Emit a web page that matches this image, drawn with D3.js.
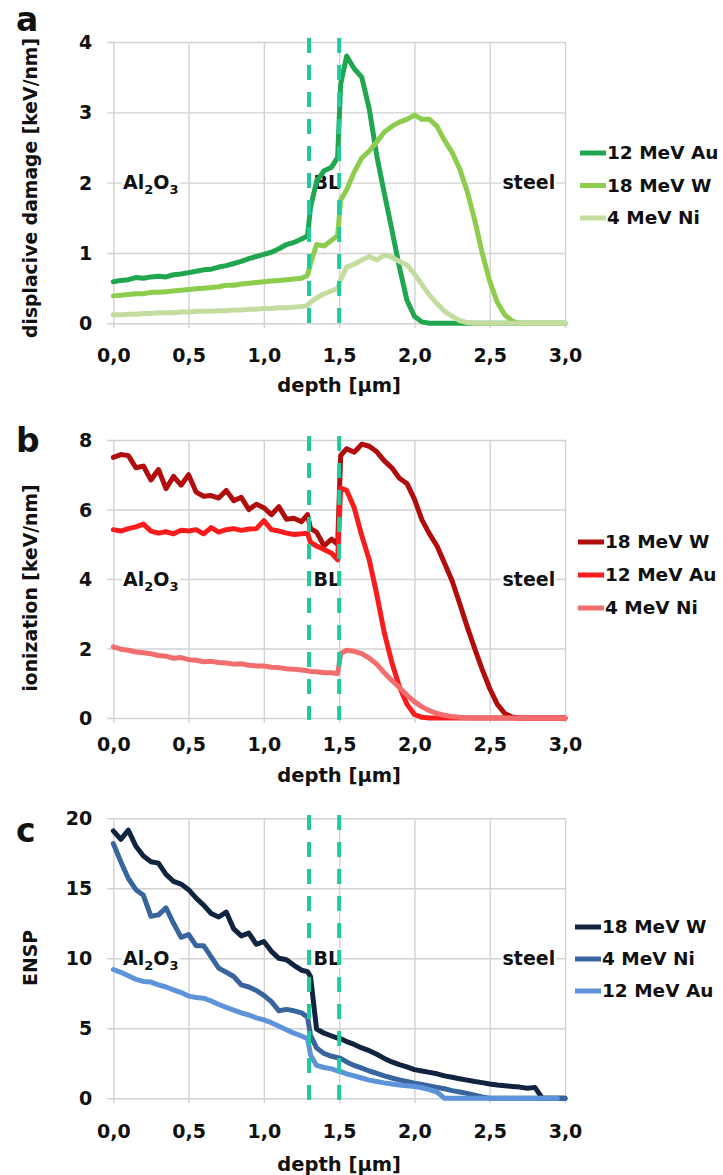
<!DOCTYPE html>
<html>
<head>
<meta charset="utf-8">
<script src="https://cdn.jsdelivr.net/npm/d3@7"></script>
<style>
  body { margin: 0; background: #fff; }
  svg { display: block; font-family: 'DejaVu Sans', sans-serif; font-weight: bold; }
</style>
</head>
<body>
<div id="chart"></div>
<script>
// depth grid [µm], shared by all curves (extra points around the BL interfaces)
const depth = [0.00,0.05,0.10,0.15,0.20,0.25,0.30,0.35,0.40,0.45,0.50,0.55,0.60,0.65,0.70,0.75,0.80,0.85,0.90,0.95,1.00,1.05,1.10,1.15,1.20,1.25,
  1.29,1.31,1.35,1.40,1.45,1.49,1.51,
  1.55,1.60,1.65,1.70,1.75,1.80,1.85,1.90,1.95,2.00,2.05,2.10,2.15,2.20,2.25,2.30,2.35,2.40,2.45,2.50,2.55,2.60,2.65,2.70,2.75,2.80,2.85,2.90,2.95,3.00];

// a: displacive damage [keV/nm]
const damageAu12 = [0.59,0.61,0.62,0.65,0.64,0.66,0.67,0.66,0.69,0.70,0.72,0.74,0.76,0.77,0.80,0.82,0.85,0.88,0.92,0.95,0.98,1.01,1.06,1.12,1.15,1.20,
  1.24,1.65,2.02,2.17,2.22,2.36,3.40,
  3.80,3.62,3.50,3.05,2.38,1.85,1.33,0.80,0.33,0.10,0.02,0,0,0,0,0,0,0,0,0,0,0,0,0,0,0,0,0,0,0];
const damageW18 = [0.39,0.40,0.41,0.42,0.42,0.44,0.44,0.45,0.46,0.47,0.48,0.49,0.50,0.51,0.52,0.54,0.54,0.56,0.57,0.58,0.59,0.60,0.61,0.62,0.63,0.64,
  0.68,0.85,1.12,1.10,1.18,1.25,1.75,
  1.90,2.15,2.35,2.45,2.58,2.72,2.80,2.86,2.90,2.96,2.90,2.90,2.80,2.60,2.43,2.20,1.88,1.47,1.00,0.60,0.30,0.12,0.03,0,0,0,0,0,0,0];
const damageNi4 = [0.12,0.12,0.13,0.13,0.14,0.14,0.15,0.15,0.15,0.16,0.16,0.17,0.17,0.17,0.18,0.18,0.19,0.19,0.20,0.20,0.21,0.21,0.22,0.22,0.23,0.24,
  0.25,0.30,0.36,0.42,0.46,0.50,0.62,
  0.80,0.84,0.90,0.95,0.90,0.97,0.94,0.88,0.83,0.70,0.55,0.40,0.28,0.17,0.10,0.04,0.01,0,0,0,0,0,0,0,0,0,0,0,0,0];

// b: ionization [keV/nm]
const ionW18 = [7.50,7.58,7.55,7.20,7.25,6.85,7.15,6.60,6.95,6.70,7.00,6.50,6.38,6.40,6.33,6.55,6.25,6.35,6.00,6.15,6.05,5.85,6.08,5.72,5.75,5.65,
  5.85,5.45,5.35,4.95,5.15,5.00,7.55,
  7.75,7.65,7.88,7.82,7.66,7.40,7.20,6.90,6.75,6.30,5.70,5.30,4.95,4.45,3.95,3.30,2.63,2.00,1.40,0.85,0.40,0.13,0.03,0,0,0,0,0,0,0];
const ionAu12 = [5.42,5.38,5.45,5.50,5.58,5.38,5.32,5.36,5.30,5.40,5.38,5.42,5.30,5.48,5.35,5.42,5.45,5.40,5.44,5.45,5.68,5.42,5.38,5.32,5.28,5.30,
  5.32,5.05,4.95,4.85,4.74,4.55,6.62,
  6.55,6.05,5.25,4.55,3.55,2.45,1.60,0.90,0.40,0.10,0.02,0,0,0,0,0,0,0,0,0,0,0,0,0,0,0,0,0,0,0];
const ionNi4 = [2.05,1.98,1.95,1.90,1.88,1.85,1.80,1.78,1.72,1.74,1.68,1.66,1.62,1.63,1.60,1.58,1.55,1.56,1.52,1.50,1.50,1.46,1.45,1.42,1.40,1.38,
  1.36,1.34,1.33,1.30,1.30,1.28,1.85,
  1.95,1.92,1.85,1.72,1.55,1.30,1.08,0.88,0.66,0.47,0.32,0.21,0.13,0.08,0.04,0.02,0.01,0,0,0,0,0,0,0,0,0,0,0,0,0];

// c: ENSP
const enspW18 = [19.1,18.5,19.15,18.0,17.3,16.9,16.8,16.0,15.5,15.3,14.9,14.3,13.8,13.2,12.95,13.3,12.1,11.6,11.8,11.0,11.2,10.5,10.0,9.9,9.5,9.15,
  9.05,8.7,4.95,4.65,4.45,4.3,4.25,
  4.05,3.85,3.6,3.4,3.15,2.85,2.6,2.4,2.25,2.05,1.95,1.85,1.75,1.6,1.5,1.4,1.3,1.2,1.12,1.02,0.95,0.9,0.85,0.8,0.72,0.78,0,0,0,0];
const enspNi4 = [18.2,16.9,15.7,14.9,14.5,13.0,13.1,13.6,12.5,11.5,11.7,10.9,10.9,10.1,9.3,9.0,8.7,8.1,7.95,7.7,7.35,6.9,6.25,6.35,6.25,6.1,
  5.8,4.5,3.6,3.2,3.0,2.9,2.85,
  2.6,2.35,2.15,1.95,1.78,1.6,1.45,1.32,1.2,1.08,0.98,0.88,0.78,0.68,0.55,0.45,0.35,0.22,0.1,0,0,0,0,0,0,0,0,0,0,0];
const enspAu12 = [9.2,9.0,8.75,8.5,8.35,8.3,8.1,7.95,7.75,7.55,7.3,7.2,7.15,6.95,6.7,6.5,6.3,6.1,5.95,5.75,5.6,5.4,5.15,4.9,4.65,4.45,
  4.25,3.1,2.35,2.2,2.1,1.95,1.9,
  1.75,1.6,1.45,1.3,1.2,1.1,1.02,0.95,0.9,0.85,0.75,0.62,0.45,0,0,0,0,0,0,0,0,0,0,0,0,0,0,0,0];

const xTicks = [0, 0.5, 1.0, 1.5, 2.0, 2.5, 3.0];
const xTickLabels = ['0,0', '0,5', '1,0', '1,5', '2,0', '2,5', '3,0'];
const interfaces = [1.3, 1.5];   // BL boundaries (dashed)

const gridColor = '#d2d2d2';
const dashColor = '#22c99c';
const W = 723, H = 1175;
const plotLeft = 113.3, plotRight = 565, tickOut = 6;

const panels = [
  { letter: 'a', letterY: 31, title: 'displacive damage [keV/nm]', titleY: 188,
    yDomain: [0, 4], yTicks: [0, 1, 2, 3, 4], top: 42, bottom: 323.3, dashTop: 38,
    tickLabelY: 355, xTitleY: 385, labelV: 2,
    legend: { x: 580, y: 153, gap: 32.5 },
    series: [
      { name: '12 MeV Au', values: damageAu12, color: '#1fa64f' },
      { name: '18 MeV W',  values: damageW18,  color: '#8ccd4e' },
      { name: '4 MeV Ni',  values: damageNi4,  color: '#c3dc9f' }
    ] },
  { letter: 'b', letterY: 452, title: 'ionization [keV/nm]', titleY: 588,
    yDomain: [0, 8], yTicks: [0, 2, 4, 6, 8], top: 440, bottom: 718, dashTop: 436,
    tickLabelY: 744, xTitleY: 775, labelV: 4,
    legend: { x: 578, y: 542, gap: 33 },
    series: [
      { name: '18 MeV W',  values: ionW18,  color: '#b10d0d' },
      { name: '12 MeV Au', values: ionAu12, color: '#f81c1c' },
      { name: '4 MeV Ni',  values: ionNi4,  color: '#f26e6e' }
    ] },
  { letter: 'c', letterY: 842, title: 'ENSP', titleY: 958,
    yDomain: [0, 20], yTicks: [0, 5, 10, 15, 20], top: 818.3, bottom: 1098.3, dashTop: 815,
    tickLabelY: 1131, xTitleY: 1164, labelV: 10,
    legend: { x: 575, y: 927, gap: 32 },
    series: [
      { name: '18 MeV W',  values: enspW18,  color: '#10233f' },
      { name: '4 MeV Ni',  values: enspNi4,  color: '#38659d' },
      { name: '12 MeV Au', values: enspAu12, color: '#5d93d8' }
    ] }
];

// region annotations: [text parts, start depth]; part[1] = subscript
const regionLabels = [
  { parts: [['Al', 0], ['2', 1], ['O', 0], ['3', 1]], d: 0.065 },
  { parts: [['BL', 0]], d: 1.33 },
  { parts: [['steel', 0]], d: 2.585 }
];

const svg = d3.select('#chart').append('svg')
  .attr('width', W).attr('height', H)
  .attr('viewBox', `0 0 ${W} ${H}`);

const x = d3.scaleLinear().domain([0, 3]).range([plotLeft, plotRight]);

function styleText(sel, size) {
  sel.attr('fill', '#111').style('font-family', "'DejaVu Sans', sans-serif")
    .style('font-weight', 'bold').style('font-size', size + 'px');
}

function drawPanel(p) {
  const y = d3.scaleLinear().domain(p.yDomain).range([p.bottom, p.top]);
  const g = svg.append('g').attr('class', 'panel-' + p.letter);

  // horizontal gridlines + y tick labels
  g.append('g')
    .attr('transform', `translate(${plotLeft - tickOut},0)`)
    .call(d3.axisLeft(y).tickValues(p.yTicks).tickFormat(d => String(d))
      .tickSizeInner(-(plotRight - plotLeft + tickOut)).tickSizeOuter(0).tickPadding(15))
    .call(a => a.attr('font-family', null).attr('font-size', null))
    .call(a => a.select('.domain').remove())
    .call(a => a.selectAll('line').attr('stroke', gridColor).attr('stroke-width', 1.4))
    .call(a => a.selectAll('text').call(styleText, 19).attr('dy', '0.35em'));

  // vertical gridlines + x tick labels
  const axisY = p.bottom + 5;
  g.append('g')
    .attr('transform', `translate(0,${axisY})`)
    .call(d3.axisBottom(x).tickValues(xTicks).tickFormat((d, i) => xTickLabels[i])
      .tickSizeInner(-(axisY - p.top)).tickSizeOuter(0).tickPadding(0))
    .call(a => a.attr('font-family', null).attr('font-size', null))
    .call(a => a.select('.domain').remove())
    .call(a => a.selectAll('line').attr('stroke', gridColor).attr('stroke-width', 1.4))
    .call(a => a.selectAll('text').call(styleText, 19)
      .attr('y', p.tickLabelY - axisY).attr('dy', '0.35em'));

  // axis titles and panel letter
  g.append('text').attr('x', x(1.5)).attr('y', p.xTitleY).attr('dy', '0.35em')
    .attr('text-anchor', 'middle').text('depth [µm]').call(styleText, 19.5);
  g.append('text').attr('transform', `translate(30,${p.titleY}) rotate(-90)`)
    .attr('dy', '0.35em').attr('text-anchor', 'middle').text(p.title).call(styleText, 18.8);
  g.append('text').attr('x', 16).attr('y', p.letterY).text(p.letter).call(styleText, 33);

  // region labels with white text boxes
  const labelLayer = g.append('g');
  regionLabels.forEach(lab => {
    const t = labelLayer.append('text').attr('x', x(lab.d)).attr('y', y(p.labelV)).attr('dy', '0.35em');
    let shifted = false;
    lab.parts.forEach(([s, sub]) => {
      const ts = t.append('tspan').text(s);
      if (sub && !shifted) { ts.attr('dy', 5); shifted = true; }
      else if (!sub && shifted) { ts.attr('dy', -5); shifted = false; }
    });
    t.call(styleText, 19);
    t.selectAll('tspan').each(function (d, i) {
      d3.select(this).style('font-size', lab.parts[i][1] ? '13px' : '19px');
    });
    const bb = t.node().getBBox();
    labelLayer.insert('rect', () => t.node())
      .attr('x', bb.x - 1).attr('y', bb.y + 1).attr('width', bb.width + 2).attr('height', bb.height - 2)
      .attr('fill', '#fff');
  });

  // curves
  const line = d3.line().x(d => x(d[0])).y(d => y(d[1]));
  g.append('g').selectAll('path').data(p.series).join('path')
    .attr('d', s => line(depth.map((dv, i) => [dv, s.values[i]])))
    .attr('fill', 'none').attr('stroke', s => s.color)
    .attr('stroke-width', 5).attr('stroke-linejoin', 'round').attr('stroke-linecap', 'round');

  // BL interface markers
  g.append('g').selectAll('line').data(interfaces).join('line')
    .attr('x1', d => x(d)).attr('x2', d => x(d))
    .attr('y1', p.dashTop).attr('y2', p.bottom + 2)
    .attr('stroke', dashColor).attr('stroke-width', 4).attr('stroke-dasharray', '15,12');

  // legend
  const lg = g.append('g').selectAll('g').data(p.series).join('g')
    .attr('transform', (s, i) => `translate(${p.legend.x},${p.legend.y + i * p.legend.gap})`);
  lg.append('line').attr('x1', 0).attr('x2', 26).attr('stroke', s => s.color).attr('stroke-width', 5);
  lg.append('text').attr('x', 27).attr('dy', '0.35em').text(s => s.name).call(styleText, 18.5);
}

panels.forEach(drawPanel);
</script>
</body>
</html>
